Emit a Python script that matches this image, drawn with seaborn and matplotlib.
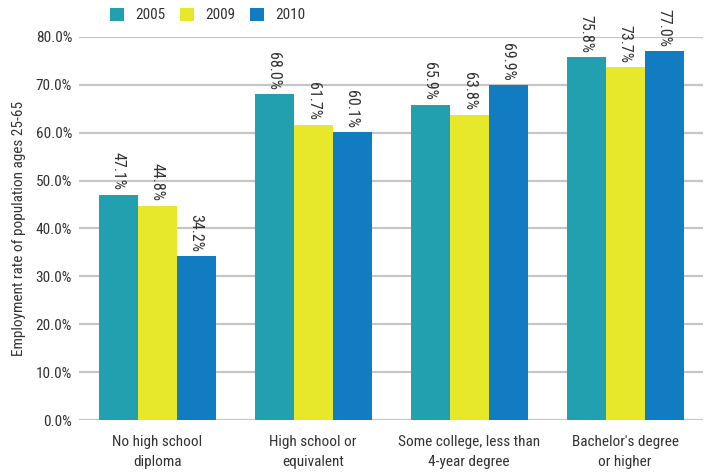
import matplotlib
matplotlib.use("Agg")
import matplotlib.pyplot as plt
import seaborn as sns
import pandas as pd

categories = ["No high school\ndiploma", "High school or\nequivalent",
              "Some college, less than\n4-year degree", "Bachelor's degree\nor higher"]
years = ["2005", "2009", "2010"]
rate_2005 = [47.1, 68.0, 65.9, 75.8]
rate_2009 = [44.8, 61.7, 63.8, 73.7]
rate_2010 = [34.2, 60.1, 69.9, 77.0]
y_ticks = [0, 10, 20, 30, 40, 50, 60, 70, 80]

colors = ["#22A0B0", "#E8E82B", "#127CC2"]

df = pd.DataFrame({
    "category": categories * 3,
    "year": [y for y in years for _ in categories],
    "rate": rate_2005 + rate_2009 + rate_2010,
})

sns.set_style("white")
plt.rcParams["font.family"] = ["Roboto Condensed", "Liberation Sans Narrow",
                               "DejaVu Sans"]
plt.rcParams["font.stretch"] = "condensed"
text_color = "#333333"
fs = 11

fig = plt.figure(figsize=(7.04, 4.72), dpi=100)
ax = fig.add_axes([79 / 704, 1 - 420 / 472, 624 / 704, 383 / 472])

sns.barplot(data=df, x="category", y="rate", hue="year", order=categories,
            hue_order=years, palette=colors, width=0.75, saturation=1,
            linewidth=0, ax=ax)

ax.set_xlim(-0.5, 3.5)
ax.set_ylim(0, 80)
ax.set_yticks(y_ticks)
ax.set_yticklabels([f"{v:.1f}%" for v in y_ticks], fontsize=fs, color=text_color)
ax.tick_params(axis="both", length=0, pad=5)
ax.tick_params(axis="x", labelsize=fs, labelcolor=text_color, pad=11)
for lbl in ax.get_xticklabels():
    lbl.set_linespacing(1.55)
ax.set_xlabel("")
ax.set_ylabel("Employment rate of population ages 25-65", fontsize=fs,
              color=text_color, labelpad=7)

ax.set_axisbelow(True)
ax.yaxis.grid(True, color="#c6c6c6", linewidth=1.6)
ax.xaxis.grid(False)
for s in ax.spines.values():
    s.set_visible(False)

for container, vals in zip(ax.containers, [rate_2005, rate_2009, rate_2010]):
    ax.bar_label(container, labels=[f"{v:.1f}%" for v in vals], padding=3,
                 rotation=270, fontsize=11.5, color=text_color)

handles, labels = ax.get_legend_handles_labels()
ax.legend(handles, labels, ncol=3, frameon=False, loc="center left",
          bbox_to_anchor=(31 / 624, 1 + 22 / 383), fontsize=fs,
          handlelength=0.92, handleheight=0.92, columnspacing=1.0,
          handletextpad=0.7, labelcolor=text_color, borderaxespad=0,
          borderpad=0)

fig.savefig("out.png", dpi=100)
